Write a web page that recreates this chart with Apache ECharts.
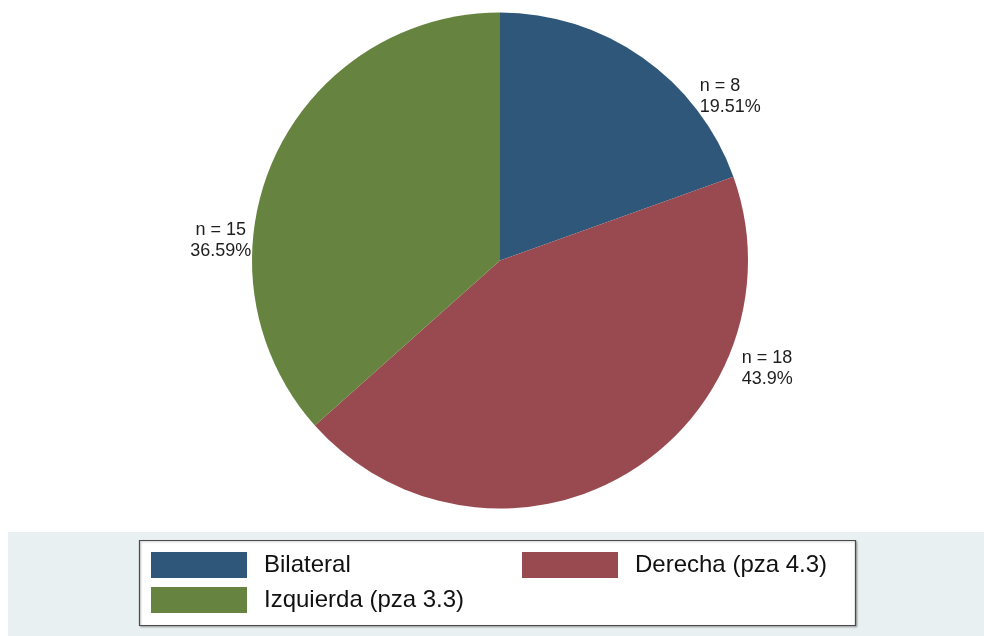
<!DOCTYPE html>
<html>
<head>
<meta charset="utf-8">
<script src="https://cdn.jsdelivr.net/npm/echarts@6/dist/echarts.min.js"></script>
<style>
html,body{margin:0;padding:0;background:#ffffff;}
#chart{width:984px;height:636px;}
</style>
</head>
<body>
<div id="chart"></div>
<script>
// ---- data ----
const categories = ['Bilateral', 'Derecha (pza 4.3)', 'Izquierda (pza 3.3)'];
const counts = [8, 18, 15];
const sliceColors = ['#2f577a', '#984a50', '#66843f'];

// ---- label offsets (layout only) ----
const labelShift = [
  { dx: 57, dy: 39, align: 'left' },
  { dx: 115, dy: -105, align: 'left' },
  { dx: -53, dy: 81, align: 'center' }
];

const FONT = 'Liberation Sans, Arial, Helvetica, sans-serif';

const chart = echarts.init(document.getElementById('chart'), null, { renderer: 'canvas' });

const pieData = categories.map((c, i) => ({
  name: c,
  value: counts[i],
  itemStyle: { color: sliceColors[i] }
}));

const legendText = { fontSize: 24, lineHeight: 26, color: '#111', fontFamily: FONT, padding: [0, 0, 0, 12] };

const option = {
  backgroundColor: '#ffffff',
  animation: false,
  graphic: [
    {
      type: 'rect', z: -10, silent: true,
      shape: { x: 8, y: 532, width: 976, height: 104 },
      style: { fill: '#e9f0f2' }
    },
    {
      type: 'rect', z: -5, silent: true,
      shape: { x: 139.5, y: 540.5, width: 716, height: 85 },
      style: {
        fill: '#ffffff', stroke: '#4a4a4a', lineWidth: 1.2,
        shadowColor: 'rgba(0,0,0,0.25)', shadowBlur: 2, shadowOffsetX: 1, shadowOffsetY: 1
      }
    }
  ],
  legend: [
    {
      data: [categories[0], categories[2]],
      orient: 'vertical',
      left: 146, top: 547,
      itemWidth: 96, itemHeight: 26, itemGap: 9,
      icon: 'rect', selectedMode: false,
      textStyle: legendText
    },
    {
      data: [categories[1]],
      orient: 'vertical',
      left: 517, top: 547,
      itemWidth: 96, itemHeight: 26, itemGap: 9,
      icon: 'rect', selectedMode: false,
      textStyle: legendText
    }
  ],
  series: [
    {
      type: 'pie',
      center: [500, 260.5],
      radius: 248,
      startAngle: 90,
      clockwise: true,
      percentPrecision: 2,
      avoidLabelOverlap: false,
      silent: true,
      emphasis: { disabled: true },
      itemStyle: { borderWidth: 0 },
      label: {
        show: true,
        position: 'outside',
        alignTo: 'none',
        distanceToLabelLine: 0,
        fontSize: 18,
        lineHeight: 21,
        color: '#1e1e1e',
        fontFamily: FONT,
        formatter: p => 'n = ' + p.value + '\n' + p.percent + '%'
      },
      labelLine: { show: false, length: 0, length2: 0 },
      labelLayout: p => labelShift[p.dataIndex],
      data: pieData
    }
  ]
};

chart.setOption(option);
</script>
</body>
</html>
